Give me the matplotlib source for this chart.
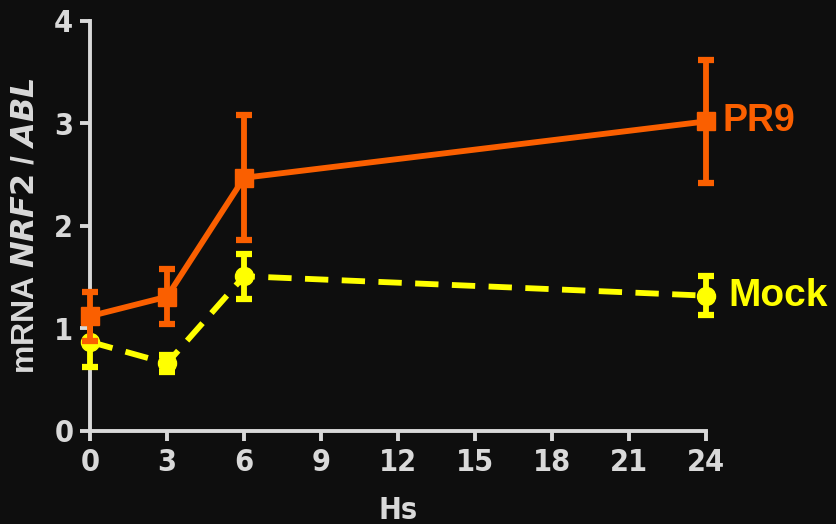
import matplotlib.pyplot as plt

hours = [0, 3, 6, 24]
pr9_mean = [1.12, 1.31, 2.47, 3.02]
pr9_err = [0.24, 0.27, 0.61, 0.60]
mock_mean = [0.87, 0.66, 1.51, 1.32]
mock_err = [0.25, 0.08, 0.22, 0.19]

bg = '#0e0e0e'
axis_col = '#d9d9d9'
orange = '#fa5f00'
yellow = '#ffff00'

plt.rcParams['font.family'] = ['Liberation Sans', 'DejaVu Sans']
plt.rcParams['font.weight'] = 'bold'

fig = plt.figure(figsize=(8.36, 5.24), dpi=100, facecolor=bg)
ax = fig.add_axes([0.1077, 0.1775, 0.7368, 0.7825], facecolor=bg)

ax.errorbar(hours, mock_mean, yerr=mock_err, color=yellow, lw=4.2,
            linestyle=(0, (4, 2.3)), marker='o', ms=13, capsize=6,
            capthick=4.5, elinewidth=4.2, clip_on=False, zorder=3)
ax.errorbar(hours, pr9_mean, yerr=pr9_err, color=orange, lw=4.2,
            marker='s', ms=13, capsize=6, capthick=4.5, elinewidth=4.2,
            clip_on=False, zorder=4)

ax.annotate('PR9', (hours[-1], pr9_mean[-1]), xytext=(12, 0),
            textcoords='offset points', color=orange, fontsize=27,
            fontweight='bold', va='center', ha='left')
ax.annotate('Mock', (hours[-1], mock_mean[-1]), xytext=(16, 0),
            textcoords='offset points', color=yellow, fontsize=28,
            fontweight='bold', va='center', ha='left')

ax.set_xlim(0, 24)
ax.set_ylim(0, 4)
ax.set_xticks(range(0, 25, 3))
ax.set_yticks(range(0, 5))

for s in ['top', 'right']:
    ax.spines[s].set_visible(False)
for s in ['left', 'bottom']:
    ax.spines[s].set_color(axis_col)
    ax.spines[s].set_linewidth(2.8)

ax.tick_params(colors=axis_col, width=2.8, length=7, pad=5)
for lab in ax.get_xticklabels() + ax.get_yticklabels():
    lab.set_fontfamily('DejaVu Sans')
    lab.set_fontstretch('condensed')
    lab.set_fontweight('bold')
    lab.set_fontsize(22)

ax.set_xlabel('Hs', color=axis_col, fontsize=22, fontweight='bold',
              fontfamily='DejaVu Sans', fontstretch='condensed',
              labelpad=14)
ax.set_ylabel(r'mRNA $\bf\it{NRF2}$ / $\bf\it{ABL}$', color=axis_col,
              fontsize=23, fontweight='bold', labelpad=10)

fig.savefig('out.png', dpi=100, facecolor=bg)
